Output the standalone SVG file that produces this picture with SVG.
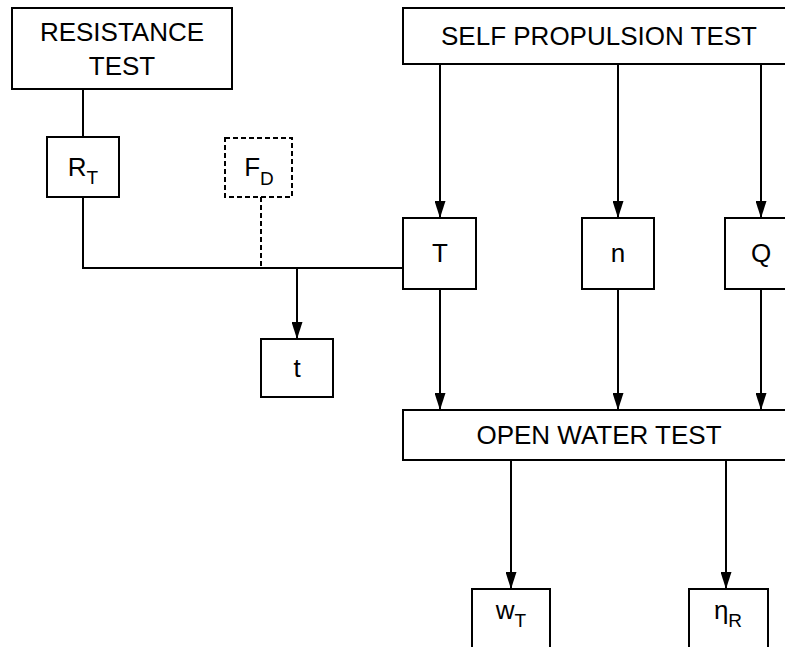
<svg xmlns="http://www.w3.org/2000/svg" width="785" height="647" viewBox="0 0 785 647">
<defs>
<marker id="arr" markerWidth="17" markerHeight="11" refX="17" refY="5.5" viewBox="0 0 17 11" orient="auto" markerUnits="userSpaceOnUse">
<path d="M0,0 L17,5.5 L0,11 Z" fill="#000"/>
</marker>
<style>
rect{fill:#fff;stroke:#000;stroke-width:2}
.dash{stroke-dasharray:5,3}
text{font-family:"Liberation Sans",Arial,sans-serif;font-size:26px;fill:#000;text-anchor:middle}
.sub{font-size:19px}
#connectors line,#connectors path{stroke:#000;stroke-width:2;fill:none}
</style>
</defs>
<rect width="785" height="647" style="fill:#fff;stroke:none"/>
<g id="connectors">
<line x1="83" y1="89" x2="83" y2="137"/>
<path d="M83,197 V268 H403"/>
<line class="dash" x1="261" y1="197" x2="261" y2="268"/>
<line x1="297" y1="268" x2="297" y2="339" marker-end="url(#arr)"/>
<line x1="440" y1="64" x2="440" y2="218" marker-end="url(#arr)"/>
<line x1="618" y1="64" x2="618" y2="218" marker-end="url(#arr)"/>
<line x1="761" y1="64" x2="761" y2="218" marker-end="url(#arr)"/>
<line x1="440" y1="289" x2="440" y2="410" marker-end="url(#arr)"/>
<line x1="618" y1="289" x2="618" y2="410" marker-end="url(#arr)"/>
<line x1="761" y1="289" x2="761" y2="410" marker-end="url(#arr)"/>
<line x1="511" y1="460" x2="511" y2="589" marker-end="url(#arr)"/>
<line x1="726" y1="460" x2="726" y2="589" marker-end="url(#arr)"/>
</g>
<g id="resistance">
<rect x="12" y="8" width="220" height="81"/>
<text x="122" y="41">RESISTANCE</text>
<text x="122" y="75">TEST</text>
</g>
<g id="selfprop">
<rect x="403" y="8" width="392" height="56"/>
<text x="599" y="45">SELF PROPULSION TEST</text>
</g>
<g id="RT">
<rect x="47" y="137" width="72" height="60"/>
<text x="83" y="176">R<tspan class="sub" dy="8">T</tspan></text>
</g>
<g id="FD">
<rect class="dash" x="225" y="138" width="67" height="59"/>
<text x="259" y="176">F<tspan class="sub" dy="9">D</tspan></text>
</g>
<g id="T">
<rect x="403" y="218" width="73" height="71"/>
<text x="440" y="262">T</text>
</g>
<g id="n">
<rect x="582" y="218" width="72" height="71"/>
<text x="618" y="262">n</text>
</g>
<g id="Q">
<rect x="725" y="218" width="72" height="71"/>
<text x="761" y="262">Q</text>
</g>
<g id="t">
<rect x="261" y="339" width="72" height="58"/>
<text x="297" y="377">t</text>
</g>
<g id="openwater">
<rect x="403" y="410" width="392" height="50"/>
<text x="599" y="444">OPEN WATER TEST</text>
</g>
<g id="wT">
<rect x="472" y="589" width="78" height="70"/>
<text x="511" y="619">w<tspan class="sub" dy="8">T</tspan></text>
</g>
<g id="etaR">
<rect x="689" y="589" width="79" height="70"/>
<text x="728" y="619">η<tspan class="sub" dy="8">R</tspan></text>
</g>
</svg>
